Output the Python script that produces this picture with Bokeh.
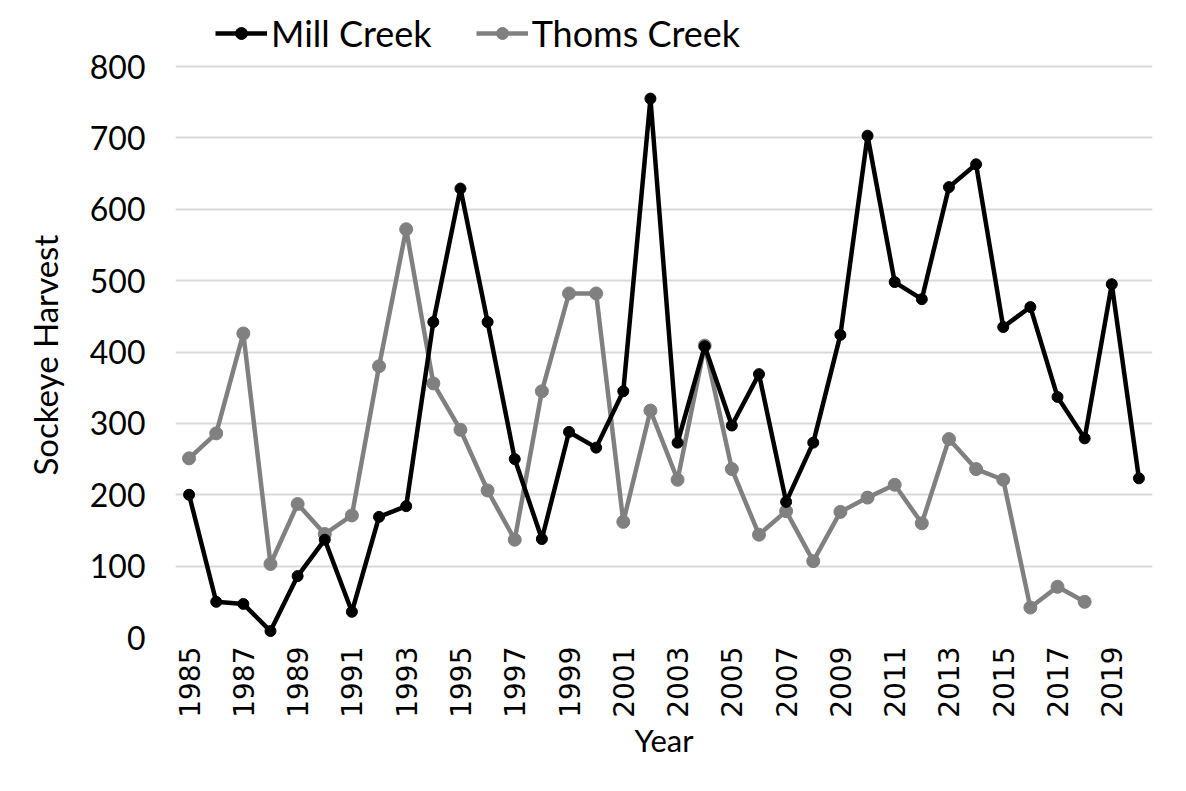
import math
from bokeh.plotting import figure
from bokeh.models import FixedTicker, Legend, LegendItem, Range1d, Title
from bokeh.embed import file_html
from bokeh.resources import INLINE

years = [1985, 1986, 1987, 1988, 1989, 1990, 1991, 1992, 1993, 1994,
         1995, 1996, 1997, 1998, 1999, 2000, 2001, 2002, 2003, 2004,
         2005, 2006, 2007, 2008, 2009, 2010, 2011, 2012, 2013, 2014,
         2015, 2016, 2017, 2018, 2019, 2020]
mill_creek = [200, 50, 47, 9, 86, 137, 36, 169, 184, 442,
              629, 442, 250, 138, 288, 266, 345, 755, 273, 408,
              297, 369, 190, 273, 424, 703, 498, 474, 631, 663,
              435, 463, 337, 279, 495, 223]
thoms_years = years[:34]
thoms_creek = [251, 286, 426, 103, 187, 145, 171, 380, 572, 356,
               291, 206, 137, 345, 482, 482, 162, 318, 221, 409,
               236, 144, 177, 107, 176, 196, 214, 160, 278, 236,
               221, 42, 71, 50]
x_ticks = [1985, 1987, 1989, 1991, 1993, 1995, 1997, 1999, 2001, 2003,
           2005, 2007, 2009, 2011, 2013, 2015, 2017, 2019]
y_ticks = [0, 100, 200, 300, 400, 500, 600, 700, 800]

# frame spans full height above the x axis; the value axis tops out at 800,
# the headroom above it holds the legend
FRAME_H = 637
PLOT_H = 571
y_top = 800 * FRAME_H / PLOT_H

p = figure(width=1170, height=775, output_backend="svg", toolbar_location=None,
           x_range=Range1d(1984.5, 2020.5), y_range=Range1d(0, y_top))
p.min_border_left = 175
p.min_border_right = 18
p.min_border_top = 0
p.min_border_bottom = 138
p.outline_line_color = None
p.background_fill_color = "white"
p.border_fill_color = "white"

GRID = "#d9d9d9"
p.xgrid.grid_line_color = None
p.ygrid.grid_line_color = GRID
p.ygrid.grid_line_width = 2

# x axis
p.xaxis.ticker = FixedTicker(ticks=x_ticks)
p.xaxis.major_label_orientation = math.pi / 2
p.xaxis.axis_line_color = None
p.xaxis.major_tick_line_color = None
p.xaxis.minor_tick_line_color = None
p.xaxis.major_tick_out = 0
p.xaxis.major_tick_in = 0
p.xaxis.major_label_standoff = 9
p.xaxis.major_label_text_font = "DejaVu Sans"
p.xaxis.major_label_text_font_size = "28px"
p.xaxis.major_label_text_color = "#000000"
p.xaxis.axis_label = "Year"
p.xaxis.axis_label_text_font = "Lato"
p.xaxis.axis_label_text_font_style = "normal"
p.xaxis.axis_label_text_font_size = "31px"
p.xaxis.axis_label_text_color = "#000000"
p.xaxis.axis_label_standoff = 0

# y axis
p.yaxis.ticker = FixedTicker(ticks=y_ticks)
p.yaxis.axis_line_color = None
p.yaxis.major_tick_line_color = None
p.yaxis.minor_tick_line_color = None
p.yaxis.major_tick_out = 0
p.yaxis.major_tick_in = 0
p.yaxis.major_label_standoff = 30
p.yaxis.major_label_text_font = "Lato"
p.yaxis.major_label_text_font_size = "32px"
p.yaxis.major_label_text_color = "#000000"

# y-axis title, placed along the 0-800 band (not the legend headroom)
ytitle = Title(text="Sockeye Harvest", align="left", offset=162, standoff=44,
               text_font="Lato", text_font_style="normal",
               text_font_size="33px", text_color="#000000")
p.add_layout(ytitle, "left")

GRAY = "#808080"
l2 = p.line(thoms_years, thoms_creek, line_color=GRAY, line_width=4.5)
s2 = p.scatter(thoms_years, thoms_creek, size=13, fill_color=GRAY, line_color=GRAY)
l1 = p.line(years, mill_creek, line_color="black", line_width=4.5)
s1 = p.scatter(years, mill_creek, size=11, fill_color="black", line_color="black")

legend = Legend(items=[LegendItem(label="Mill Creek", renderers=[l1, s1]),
                       LegendItem(label="Thoms Creek", renderers=[l2, s2])],
                orientation="horizontal", location=(40, 582))
legend.border_line_color = None
legend.background_fill_alpha = 0
legend.label_text_font = "Lato"
legend.label_text_font_size = "36px"
legend.label_text_color = "#000000"
legend.glyph_width = 52
legend.glyph_height = 30
legend.label_standoff = 4
legend.spacing = 44
legend.padding = 0
legend.margin = 0
p.add_layout(legend)

open("out.html", "w").write(file_html(p, INLINE))
